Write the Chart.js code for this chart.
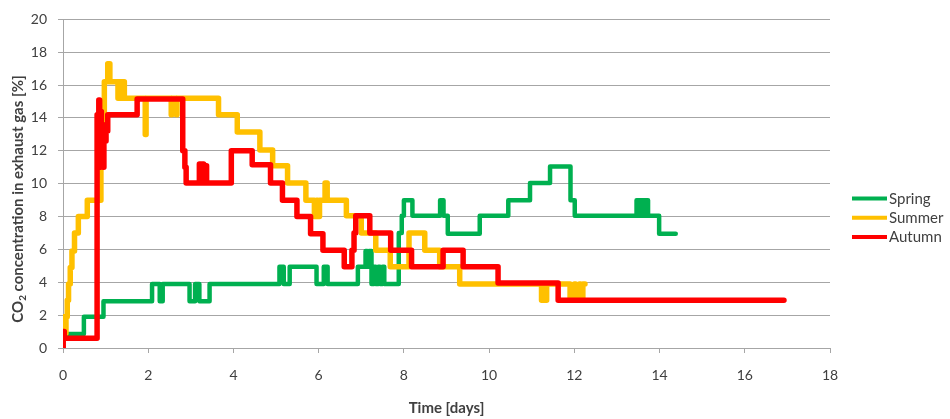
<!DOCTYPE html>
<html>
<head>
<meta charset="utf-8">
<script src="https://cdn.jsdelivr.net/npm/chart.js@4"></script>
<style>
html,body{margin:0;padding:0;background:#ffffff;}
#wrap{width:950px;height:419px;}
</style>
</head>
<body>
<div id="wrap"><canvas id="c" width="950" height="419"></canvas></div>
<script>
// ---- data (time in days, CO2 in %) ----
const seriesNames = ['Spring', 'Summer', 'Autumn'];
const xTicks = [0, 2, 4, 6, 8, 10, 12, 14, 16, 18];
const yTicks = [0, 2, 4, 6, 8, 10, 12, 14, 16, 18, 20];

const springDays = [0.04, 0.49, 0.95, 2.09, 2.27, 2.34, 2.97, 3.10, 3.20, 3.44, 5.08, 5.18, 5.32, 5.95, 6.12, 6.21, 6.92, 7.10, 7.14, 7.18, 7.24, 7.30, 7.34, 7.40, 7.44, 7.50, 7.54, 7.88, 7.95, 8.00, 8.20, 8.85, 8.93, 9.03, 9.78, 10.45, 10.96, 11.43, 11.91, 12.01, 13.46, 13.52, 13.56, 13.62, 13.66, 13.73, 13.99, 14.38];
const springCO2  = [0.85, 1.9, 2.85, 3.9, 2.85, 3.9, 2.85, 3.9, 2.85, 3.9, 4.95, 3.9, 4.95, 3.9, 4.95, 3.9, 4.95, 5.9, 4.95, 5.9, 3.9, 4.95, 3.9, 4.95, 3.9, 4.95, 3.9, 7.0, 8.05, 9.0, 8.05, 9.0, 8.05, 6.95, 8.05, 9.0, 10.05, 11.05, 9.0, 8.05, 9.0, 8.05, 9.0, 8.05, 9.0, 8.05, 6.95, 6.95];

const summerDays = [0.00, 0.03, 0.07, 0.10, 0.13, 0.17, 0.21, 0.27, 0.36, 0.57, 0.89, 0.97, 1.05, 1.10, 1.29, 1.32, 1.36, 1.39, 1.44, 1.93, 1.95, 2.54, 2.555, 2.66, 2.675, 3.65, 4.09, 4.62, 4.92, 5.27, 5.70, 5.90, 5.95, 5.98, 6.02, 6.15, 6.20, 6.65, 7.00, 7.34, 7.68, 8.12, 8.49, 8.84, 9.31, 11.23, 11.35, 11.90, 12.00, 12.03, 12.12, 12.15, 12.20, 12.25];
const summerCO2  = [1.9, 0.9, 1.9, 2.9, 3.9, 4.9, 5.9, 7.0, 8.0, 9.0, 13.2, 16.2, 17.3, 16.2, 15.2, 16.2, 15.2, 16.2, 15.2, 13.0, 15.2, 14.2, 15.2, 14.2, 15.2, 14.2, 13.15, 12.05, 11.1, 10.05, 9.0, 8.0, 9.0, 8.0, 9.0, 10.05, 9.0, 8.05, 7.0, 5.95, 4.95, 7.0, 5.95, 4.95, 3.9, 2.9, 3.9, 2.9, 3.9, 2.9, 3.9, 2.9, 3.9, 3.9];

const autumnDays = [0.00, 0.005, 0.03, 0.80, 0.84, 0.86, 0.88, 0.90, 0.92, 0.94, 0.96, 0.99, 1.01, 1.05, 1.74, 2.81, 2.86, 2.89, 3.20, 3.24, 3.27, 3.30, 3.33, 3.37, 3.95, 4.44, 4.87, 5.15, 5.49, 5.81, 6.10, 6.60, 6.78, 6.83, 6.87, 7.20, 7.69, 8.18, 8.92, 9.39, 10.21, 11.62, 16.92];
const autumnCO2  = [0.0, 1.0, 0.6, 14.2, 15.1, 11.0, 14.4, 11.5, 13.6, 11.0, 13.2, 12.6, 13.2, 14.2, 15.15, 12.0, 11.0, 10.05, 11.2, 10.05, 11.2, 10.05, 11.1, 10.05, 12.0, 11.15, 10.05, 9.0, 8.0, 6.95, 5.95, 4.95, 5.95, 7.0, 8.05, 7.0, 5.95, 4.95, 5.95, 4.95, 3.95, 2.9, 2.9];

const seriesColors = ['#00B050', '#FFC000', '#FF0000'];

function pts(xs, ys) { return xs.map((x, i) => ({x: x, y: ys[i]})); }

const textColor = '#404040';
const gridColor = '#a6a6a6';

const sideLegend = {
  id: 'sideLegend',
  afterDraw(chart) {
    const ctx = chart.ctx;
    const x0 = chart.chartArea.right + 22;
    const len = 35;
    const top = 198.5, gap = 19.2;
    chart.data.datasets.forEach((ds, i) => {
      const y = top + i * gap;
      ctx.save();
      ctx.strokeStyle = ds.borderColor;
      ctx.lineWidth = 4;
      ctx.beginPath();
      ctx.moveTo(x0, y);
      ctx.lineTo(x0 + len, y);
      ctx.stroke();
      ctx.fillStyle = textColor;
      ctx.font = '15px Lato';
      ctx.textBaseline = 'middle';
      ctx.textAlign = 'left';
      ctx.fillText(ds.label, x0 + len + 2, y + 0.5);
      ctx.restore();
    });
  }
};

const yTitle = {
  id: 'yTitle',
  afterDraw(chart) {
    const ctx = chart.ctx;
    const big = 'bold 15px Lato', small = 'bold 10px Lato';
    const parts = [['CO', big, 0], ['2', small, 3], [' concentration in exhaust gas [%]', big, 0]];
    ctx.save();
    ctx.translate(23, 199);
    ctx.rotate(-Math.PI / 2);
    ctx.fillStyle = textColor;
    ctx.textBaseline = 'alphabetic';
    ctx.textAlign = 'left';
    let total = 0;
    parts.forEach(p => { ctx.font = p[1]; total += ctx.measureText(p[0]).width; });
    let x = -total / 2;
    parts.forEach(p => {
      ctx.font = p[1];
      ctx.fillText(p[0], x, p[2]);
      x += ctx.measureText(p[0]).width;
    });
    ctx.restore();
  }
};

Chart.defaults.font.family = 'Lato';
Chart.defaults.font.size = 14;
Chart.defaults.color = textColor;

const widths = [4.5, 5.5, 5.5];
const orders = [2, 1, 0];

new Chart(document.getElementById('c'), {
  type: 'line',
  data: {
    datasets: seriesNames.map((name, i) => ({
      label: name,
      data: pts([springDays, summerDays, autumnDays][i], [springCO2, summerCO2, autumnCO2][i]),
      borderColor: seriesColors[i],
      backgroundColor: seriesColors[i],
      borderWidth: widths[i],
      stepped: true,
      pointRadius: 0,
      pointHoverRadius: 0,
      fill: false,
      tension: 0,
      borderCapStyle: 'round',
      borderJoinStyle: 'round',
      order: orders[i]
    }))
  },
  options: {
    responsive: false,
    animation: false,
    devicePixelRatio: 1,
    layout: { padding: { top: 15, right: 120, left: 0, bottom: 0 } },
    plugins: {
      legend: { display: false },
      tooltip: { enabled: false }
    },
    scales: {
      x: {
        type: 'linear',
        min: 0, max: 18,
        afterFit(scale) { scale.height = 71; },
        afterBuildTicks(scale) { scale.ticks = xTicks.map(v => ({value: v})); },
        ticks: { padding: 14, color: textColor, font: { size: 14 }, maxRotation: 0 },
        grid: { drawOnChartArea: false, drawTicks: true, tickLength: 5, color: gridColor, lineWidth: 1 },
        border: { display: true, color: gridColor, width: 1 },
        title: { display: true, text: 'Time [days]', color: textColor, font: { size: 15, weight: 'bold' }, padding: { top: 0, bottom: 2 } }
      },
      y: {
        min: 0, max: 20,
        afterFit(scale) { scale.width = 63; },
        afterBuildTicks(scale) { scale.ticks = yTicks.map(v => ({value: v})); },
        ticks: { padding: 11, color: textColor, font: { size: 14 } },
        grid: { drawOnChartArea: true, drawTicks: true, tickLength: 5, color: gridColor, lineWidth: 1 },
        border: { display: true, color: gridColor, width: 1 }
      }
    }
  },
  plugins: [sideLegend, yTitle]
});
</script>
</body>
</html>
